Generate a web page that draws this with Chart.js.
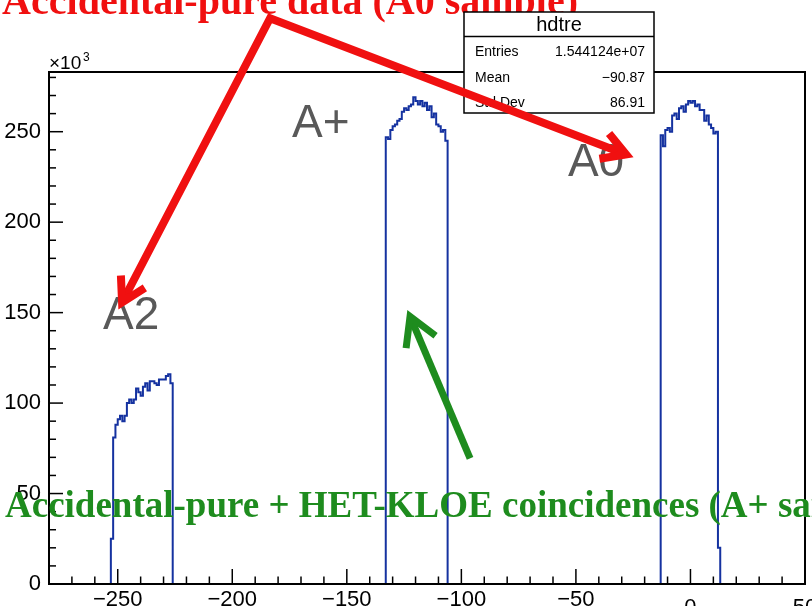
<!DOCTYPE html>
<html lang="en">
<head>
<meta charset="UTF-8">
<title>hdtre</title>
<script src="https://cdn.jsdelivr.net/npm/chart.js"></script>
<style>
    html, body { margin: 0; padding: 0; background: #fff; }
    #grafico { display: block; }
</style>
</head>
<body>
<canvas id="grafico" width="812" height="606"></canvas>

<script>
    // contagens por bin (largura 1), em unidades de 10^3
    const a2Start = -253;
    const a2Counts = [25, 81, 88, 91, 93, 90, 93, 100, 102, 100, 102, 108, 106, 104,
        109, 111, 107, 112, 112, 111, 110, 113, 113, 113, 115, 116, 111];

    const aPlusStart = -133;
    const aPlusCounts = [247, 246, 251, 253, 254, 256, 257, 261, 263, 262, 264, 265, 269, 267,
        265, 267, 264, 266, 262, 264, 258, 260, 254, 253, 250, 251, 245];

    const a0Start = -13;
    const a0Counts = [248, 242, 251, 252, 250, 259, 260, 257, 263, 264, 261, 265, 267, 266,
        267, 264, 265, 262, 262, 256, 259, 254, 252, 249, 250, 20];

    const xMajorTicks = [-250, -200, -150, -100, -50, 0, 50];
    const yMajorTicks = [0, 50, 100, 150, 200, 250];

    const statsTitle = 'hdtre';
    const statsRows = [
        ['Entries', '1.544124e+07'],
        ['Mean', '\u221290.87'],
        ['Std Dev', '86.91']
    ];

    // contorno do histograma (estilo ROOT)
    function contorno(start, counts) {
        const pts = [{ x: start, y: 0 }];
        counts.forEach(function (c, i) {
            pts.push({ x: start + i, y: c });
            pts.push({ x: start + i + 1, y: c });
        });
        pts.push({ x: start + counts.length, y: 0 });
        return pts;
    }

    const pontos = [{ x: -280, y: 0 }]
        .concat(contorno(a2Start, a2Counts))
        .concat(contorno(aPlusStart, aPlusCounts))
        .concat(contorno(a0Start, a0Counts))
        .concat([{ x: 50, y: 0 }]);

    function menos(v) {
        return v < 0 ? '\u2212' + (-v) : String(v);
    }

    function linha(ctx, x1, y1, x2, y2) {
        ctx.beginPath();
        ctx.moveTo(x1, y1);
        ctx.lineTo(x2, y2);
        ctx.stroke();
    }

    function ponta(ctx, tip, from, len, ang) {
        const a = Math.atan2(from.y - tip.y, from.x - tip.x);
        ctx.beginPath();
        ctx.moveTo(tip.x + len * Math.cos(a - ang), tip.y + len * Math.sin(a - ang));
        ctx.lineTo(tip.x, tip.y);
        ctx.lineTo(tip.x + len * Math.cos(a + ang), tip.y + len * Math.sin(a + ang));
        ctx.stroke();
    }

    const moldura = {
        id: 'moldura',
        afterDraw(chart) {
            const ctx = chart.ctx;
            const a = chart.chartArea;
            const sx = chart.scales.x;
            const sy = chart.scales.y;
            const P = (vx, vy) => ({ x: sx.getPixelForValue(vx), y: sy.getPixelForValue(vy) });

            ctx.save();
            ctx.strokeStyle = '#000';
            ctx.lineWidth = 1.5;

            // ticks para dentro
            for (let v = -270; v < 50; v += 10) {
                const px = sx.getPixelForValue(v);
                linha(ctx, px, a.bottom, px, a.bottom - (xMajorTicks.includes(v) ? 15 : 7.5));
            }
            for (let v = 10; v < 283; v += 10) {
                const py = sy.getPixelForValue(v);
                linha(ctx, a.left, py, a.left + (yMajorTicks.includes(v) ? 14 : 7), py);
            }

            ctx.lineWidth = 2;
            ctx.strokeRect(a.left, a.top, a.right - a.left, a.bottom - a.top);

            // rotulos do eixo x
            ctx.fillStyle = '#000';
            ctx.font = '22px "Liberation Sans"';
            ctx.textAlign = 'center';
            ctx.textBaseline = 'top';
            xMajorTicks.forEach(function (v) {
                ctx.fillText(menos(v), sx.getPixelForValue(v), v < 0 ? 589 : 597);
            });

            // x10^3
            ctx.textAlign = 'left';
            ctx.textBaseline = 'alphabetic';
            ctx.font = '19px "Liberation Sans"';
            ctx.fillText('\u00d710', a.left, a.top - 3);
            ctx.font = '12px "Liberation Sans"';
            ctx.fillText('3', a.left + 34, a.top - 11);

            // nomes dos picos
            ctx.fillStyle = '#595959';
            ctx.font = '46px "Liberation Sans"';
            let p = P(-173.9, 246.8);
            ctx.fillText('A+', p.x, p.y);
            p = P(-53.5, 225.3);
            ctx.fillText('A0', p.x, p.y);
            p = P(-256.4, 141.2);
            ctx.fillText('A2', p.x, p.y);

            // texto verde
            ctx.fillStyle = '#1e8c1e';
            ctx.font = 'bold 37px "Liberation Serif"';
            ctx.fillText('Accidental-pure + HET-KLOE coincidences (A+ sample)', 5, 517);

            // texto vermelho no topo (fica por baixo da caixa)
            ctx.fillStyle = '#f01010';
            ctx.font = 'bold 40px "Liberation Serif"';
            ctx.textAlign = 'right';
            ctx.fillText('Accidental-pure data (A0 sample)', 578, 14);

            // caixa de estatisticas
            ctx.fillStyle = '#fff';
            ctx.fillRect(464, 12, 190, 101);
            ctx.lineWidth = 1.5;
            ctx.strokeRect(464, 12, 190, 101);
            linha(ctx, 464, 36.5, 654, 36.5);
            ctx.fillStyle = '#000';
            ctx.textAlign = 'center';
            ctx.font = '20px "Liberation Sans"';
            ctx.fillText(statsTitle, 559, 31);
            ctx.font = '14px "Liberation Sans"';
            statsRows.forEach(function (r, i) {
                const by = 56 + i * 25.5;
                ctx.textAlign = 'left';
                ctx.fillText(r[0], 475, by);
                ctx.textAlign = 'right';
                ctx.fillText(r[1], 645, by);
            });

            // setas
            ctx.lineJoin = 'miter';
            ctx.lineCap = 'butt';
            ctx.strokeStyle = '#f01010';
            ctx.lineWidth = 8;
            const apice = P(-183.5, 312.7);
            const pA2 = P(-248.1, 155.6);
            const pA0 = P(-28.1, 237.4);
            ctx.beginPath();
            ctx.moveTo(pA2.x, pA2.y);
            ctx.lineTo(apice.x, apice.y);
            ctx.lineTo(pA0.x, pA0.y);
            ctx.stroke();
            ponta(ctx, pA2, apice, 27, Math.PI / 6);
            ponta(ctx, pA0, apice, 27, Math.PI / 6);

            ctx.strokeStyle = '#1e8c1e';
            ctx.lineWidth = 7;
            const cauda = P(-96.2, 69.4);
            const pAp = P(-122.4, 147.9);
            linha(ctx, cauda.x, cauda.y, pAp.x, pAp.y);
            ponta(ctx, pAp, cauda, 32, Math.PI / 6);

            ctx.restore();
        }
    };

    const config = {
        type: 'line',
        data: {
            datasets: [{
                data: pontos,
                borderColor: '#1532a0',
                borderWidth: 2,
                pointRadius: 0,
                tension: 0,
                fill: false
            }]
        },
        options: {
            responsive: false,
            animation: false,
            devicePixelRatio: 1,
            layout: { padding: { top: 72, right: 7, left: 0, bottom: 0 } },
            plugins: {
                legend: { display: false },
                tooltip: { enabled: false }
            },
            scales: {
                x: {
                    type: 'linear',
                    min: -280,
                    max: 50,
                    grid: { display: false, drawTicks: false },
                    border: { display: false },
                    ticks: { display: false },
                    afterFit: function (s) { s.height = 22; }
                },
                y: {
                    min: 0,
                    max: 283,
                    grid: { display: false, drawTicks: false },
                    border: { display: false },
                    afterBuildTicks: function (s) {
                        s.ticks = yMajorTicks.map(v => ({ value: v }));
                    },
                    ticks: {
                        padding: 8,
                        color: '#000',
                        font: { family: 'Liberation Sans', size: 22 }
                    },
                    afterFit: function (s) { s.width = 49; }
                }
            }
        },
        plugins: [moldura]
    };

    const myChart = new Chart(document.getElementById('grafico'), config);
</script>
</body>
</html>
